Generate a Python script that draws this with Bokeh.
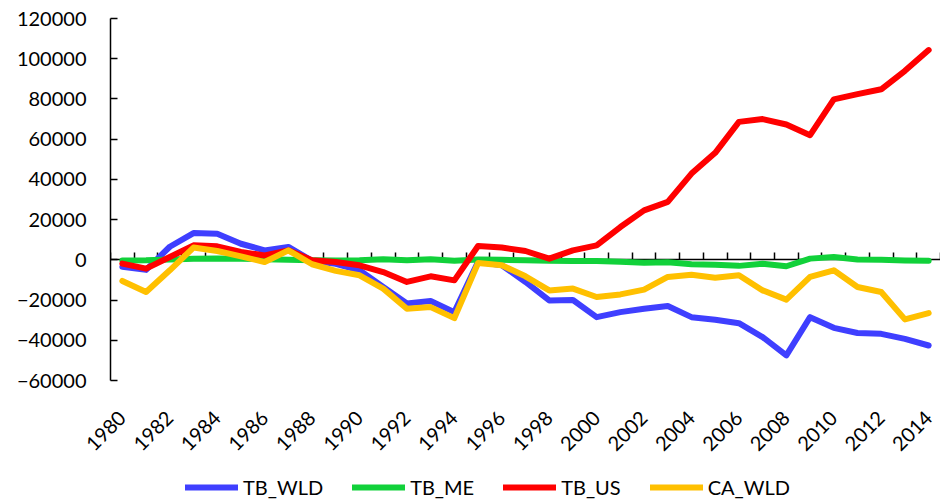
from bokeh.plotting import figure
from bokeh.models import (LinearAxis, FixedTicker, Range1d, Legend, LegendItem,
                          ColumnDataSource, BasicTickFormatter, CustomJSTickFormatter)
from bokeh.layouts import column
from bokeh.embed import file_html
from bokeh.resources import INLINE

years = list(range(1980, 2015))

tb_wld = [-3500, -5000, 6500, 13300, 13000, 8000, 4700, 6400, -500, -2000,
          -5200, -13500, -21700, -20500, -26000, -1000, -2700, -11000, -20200, -20000,
          -28500, -26000, -24300, -23000, -28500, -29800, -31500, -38400, -47500, -28500,
          -33800, -36400, -36800, -39300, -42600]
tb_me = [-300, -200, 200, 500, 700, 500, 300, 0, -200, -300,
         -200, 300, -200, 300, -400, 200, 0, -200, -400, -600,
         -600, -1000, -1500, -1200, -2200, -2500, -3000, -2000, -3200, 600,
         1400, 200, 0, -300, -400]
tb_us = [-1900, -4400, 1400, 7200, 6700, 3900, 2200, 4700, -200, -1100,
         -2700, -6100, -11000, -8200, -10200, 6900, 6100, 4400, 600, 4700,
         7200, 16300, 24600, 28800, 42900, 53200, 68600, 70000, 67300, 62000,
         79800, 82400, 84800, 94000, 104300]
ca_wld = [-10500, -16000, -5200, 6100, 4400, 1700, -1100, 4700, -2200, -5500,
          -7700, -14300, -24300, -23500, -29000, -1600, -2700, -8200, -15200, -14300,
          -18500, -17200, -14800, -8500, -7400, -8900, -7700, -15200, -19800, -8500,
          -5200, -13500, -16000, -29600, -26500]

series_names = ["TB_WLD", "TB_ME", "TB_US", "CA_WLD"]
series_values = [tb_wld, tb_me, tb_us, ca_wld]
colors = ["#3F3FFF", "#11D13A", "#FF0000", "#FFC000"]

y_ticks = [-60000, -40000, -20000, 0, 20000, 40000, 60000, 80000, 100000, 120000]
x_label_years = [y for y in years if y % 2 == 0]

FONT = "Lato"

p = figure(width=940, height=470, output_backend="svg", toolbar_location=None,
           x_range=Range1d(years[0] - 0.5, years[-1] + 0.5),
           y_range=Range1d(-60000, 120000),
           min_border_left=110, min_border_right=0, min_border_top=18,
           min_border_bottom=90)
p.outline_line_color = None
p.xgrid.visible = False
p.ygrid.visible = False
p.background_fill_color = "white"
p.border_fill_color = "white"

# y axis
p.yaxis.ticker = FixedTicker(ticks=y_ticks)
p.yaxis.formatter = BasicTickFormatter(use_scientific=False)
p.yaxis.major_tick_in = 7
p.yaxis.major_tick_out = 0
p.yaxis.minor_tick_line_color = None
p.yaxis.axis_line_color = "black"
p.yaxis.axis_line_width = 1.5
p.yaxis.major_tick_line_width = 1.5
p.yaxis.major_label_standoff = 24
p.yaxis.major_label_text_font = FONT
p.yaxis.major_label_text_font_size = "20px"
p.yaxis.major_label_text_color = "black"

# x axis: labels only at the bottom
p.xaxis.ticker = FixedTicker(ticks=x_label_years)
p.xaxis.axis_line_color = None
p.xaxis.major_tick_line_color = None
p.xaxis.minor_tick_line_color = None
p.xaxis.major_label_orientation = 0.785398
p.xaxis.major_label_text_font = FONT
p.xaxis.major_label_text_font_size = "20px"
p.xaxis.major_label_text_color = "black"
p.xaxis.major_label_standoff = 28

# zero line axis with category boundary ticks, drawn beneath the series
zero_axis = LinearAxis(fixed_location=0, level="underlay",
                       ticker=FixedTicker(ticks=[y - 0.5 for y in years] + [years[-1] + 0.5]),
                       formatter=CustomJSTickFormatter(code="return ''"),
                       major_tick_in=0, major_tick_out=7,
                       major_label_text_font_size="0px", major_label_standoff=0,
                       axis_line_width=1.5, major_tick_line_width=1.5,
                       minor_tick_line_color=None)
p.add_layout(zero_axis, "above")

sources = []
for name, vals, col in zip(series_names, series_values, colors):
    src = ColumnDataSource(dict(x=years, y=vals))
    sources.append(src)
    p.line("x", "y", source=src, line_color=col, line_width=6,
           line_join="round", line_cap="round")

# legend strip below the chart (its ranges keep the series out of view)
lg = figure(width=940, height=29, output_backend="svg", toolbar_location=None,
            x_axis_type=None, y_axis_type=None,
            x_range=Range1d(0, 1), y_range=Range1d(0, 1),
            min_border_left=0, min_border_right=0, min_border_top=0,
            min_border_bottom=0)
lg.outline_line_color = None
lg.xgrid.visible = False
lg.ygrid.visible = False
items = []
for name, src, col in zip(series_names, sources, colors):
    r = lg.line("x", "y", source=src, line_color=col, line_width=6, line_cap="round")
    items.append(LegendItem(label=name, renderers=[r]))

legend = Legend(items=items, orientation="horizontal", location=(75, 0),
                glyph_width=53, glyph_height=20, label_standoff=5, spacing=29,
                padding=0, margin=0, border_line_color=None,
                background_fill_alpha=0,
                label_text_font=FONT, label_text_font_size="20px",
                label_text_color="black")
lg.add_layout(legend, "center")

layout = column(p, lg, spacing=0)
open("out.html", "w").write(file_html(layout, INLINE))
